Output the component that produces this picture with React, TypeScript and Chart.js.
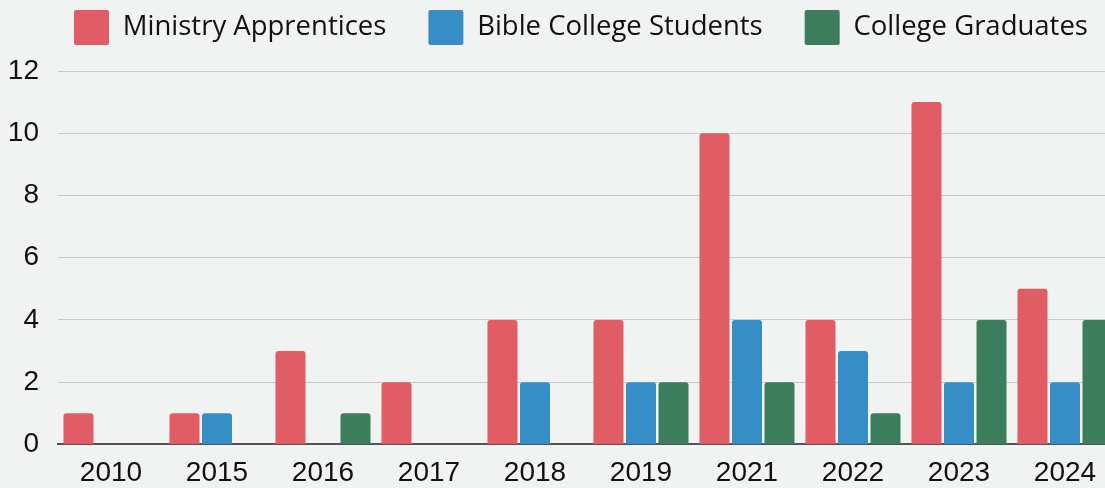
import React, { useEffect, useRef } from "react";
import { Chart, registerables } from "chart.js";

Chart.register(...registerables);

const categories = ["2010", "2015", "2016", "2017", "2018", "2019", "2021", "2022", "2023", "2024"];
const ministryApprentices = [1, 1, 3, 2, 4, 4, 10, 4, 11, 5];
const bibleCollegeStudents = [0, 1, 0, 0, 2, 2, 4, 3, 2, 2];
const collegeGraduates = [0, 0, 1, 0, 0, 2, 2, 1, 4, 4];
const yTicks = [0, 2, 4, 6, 8, 10, 12];

const LEGEND_FONT = "'Open Sans', sans-serif";
const TICK_FONT = "'Liberation Sans', Arial, sans-serif";

export default function App() {
  const ref = useRef<HTMLCanvasElement | null>(null);

  useEffect(() => {
    if (!ref.current) return;
    const chart = new Chart(ref.current, {
      type: "bar",
      data: {
        labels: categories,
        datasets: [
          { label: "Ministry Apprentices", data: ministryApprentices, backgroundColor: "#e05d65" },
          { label: "Bible College Students", data: bibleCollegeStudents, backgroundColor: "#378ec6" },
          { label: "College Graduates", data: collegeGraduates, backgroundColor: "#3b7d5d" },
        ].map((d) => ({
          ...d,
          borderWidth: 0,
          borderRadius: 3,
          categoryPercentage: 0.92,
          barPercentage: 0.923,
        })),
      },
      options: {
        responsive: false,
        animation: false,
        layout: { padding: { top: -32, left: 0, right: 0, bottom: -14 } },
        plugins: {
          tooltip: { enabled: false },
          legend: {
            position: "top",
            labels: {
              boxWidth: 35,
              boxHeight: 35,
              padding: 42,
              color: "#111",
              font: { size: 27.5, family: LEGEND_FONT },
              useBorderRadius: true,
              borderRadius: 2,
            },
          },
          subtitle: {
            display: true,
            text: "",
            weight: 500,
            padding: 0,
            font: { size: 16, lineHeight: 1 },
          },
        },
        scales: {
          x: {
            grid: { display: false, drawTicks: false },
            border: { display: true, color: "#555", width: 2 },
            ticks: { color: "#111", font: { size: 28, family: TICK_FONT }, padding: 12, maxRotation: 0 },
          },
          y: {
            min: 0,
            max: 12,
            afterFit: (s: any) => {
              s.width = 58;
            },
            afterBuildTicks: (s: any) => {
              s.ticks = yTicks.map((v) => ({ value: v }));
            },
            grid: { color: "#c8c8c8", lineWidth: 1, drawTicks: false },
            border: { display: false },
            ticks: { color: "#111", font: { size: 28, family: TICK_FONT }, padding: 19 },
          },
          yRight: {
            type: "linear",
            position: "right",
            display: true,
            afterFit: (s: any) => {
              s.width = 44;
            },
            grid: { display: false },
            border: { display: false },
            ticks: { display: false },
          },
        },
      },
    } as any);
    return () => chart.destroy();
  }, []);

  return (
    <div
      style={{
        position: "absolute",
        left: 0,
        top: 0,
        width: 1105,
        height: 488,
        overflow: "hidden",
        background: "#f1f3f2",
      }}
    >
      <canvas ref={ref} width={1162} height={488} style={{ display: "block" }} />
    </div>
  );
}
